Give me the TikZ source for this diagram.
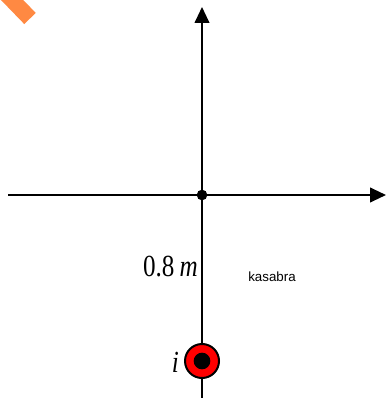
\documentclass[tikz,border=0pt]{standalone}
\usepackage{fontspec}
\setmainfont{Liberation Serif}
\newfontfamily\notefont{Liberation Sans}
\newfontfamily\labelfont[FakeStretch=0.82]{Liberation Serif}
\usepackage{xcolor}
\definecolor{wirered}{RGB}{255,0,0}
\definecolor{markorange}{RGB}{255,137,66}
\usetikzlibrary{arrows.meta,positioning}

\begin{document}
\begin{tikzpicture}[x=0.75pt, y=-0.75pt,
    axis/.style={line width=1.5pt, -{Triangle[length=12pt, width=11pt]}},
    dot/.style={circle, fill=black, inner sep=0pt, minimum size=8pt},
    wire/.style={circle, draw=black, line width=1.5pt, fill=wirered,
                 inner sep=0pt, minimum size=25.5pt},
    wirecore/.style={circle, fill=black, inner sep=0pt, minimum size=12.5pt},
    bigtext/.style={font=\labelfont\fontsize{23}{26}\selectfont, inner sep=0pt}
  ]
    \clip (0,0) rectangle (387,398);
    % corner mark
    \draw[markorange, line width=12pt] (-15,-28) -- (30,18.5);
    % axes
    \coordinate (xl) at (8,195);
    \coordinate (xr) at (386,195);
    \coordinate (yt) at (202,7);
    \coordinate (yb) at (202,400);
    \draw[axis] (xl) -- (xr);
    \draw[axis] (yt |- yb) -- (yt);
    \node[dot] (origin) at (202,195) {};
    % wire
    \node[wire] (wire) at (202,361) {};
    \node[wirecore] (core) at (wire) {};
    \node[bigtext, anchor=east] (cur) at (179,362) {\textit{i}};
    \node[bigtext, anchor=east] (dist) at (198,267) {0.8\,\textit{m}};
    \node[font=\notefont\fontsize{10}{12}\selectfont] (note) at (272,277) {kasabra};
\end{tikzpicture}
\end{document}
